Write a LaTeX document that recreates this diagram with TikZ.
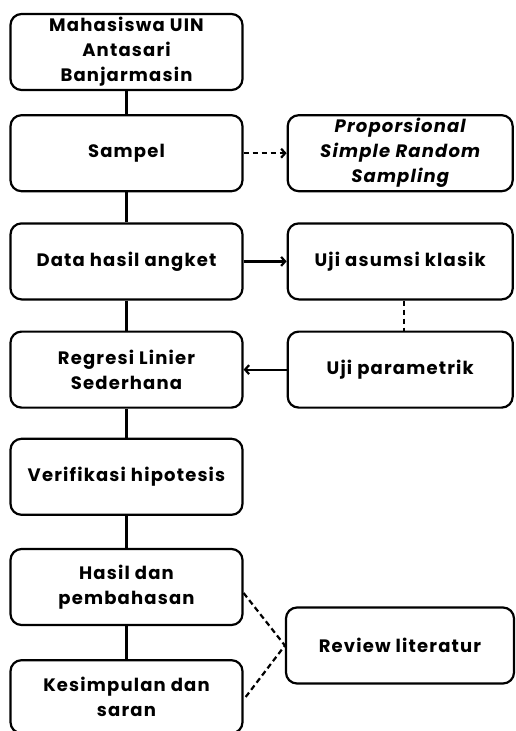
\documentclass[tikz,border=0pt]{standalone}
\usepackage{fontspec}
\setmainfont[LetterSpace=6.5]{Poppins}
\usetikzlibrary{positioning,arrows.meta}

\begin{document}
\begin{tikzpicture}[x=1pt, y=-1pt,
      box/.style={draw, rounded corners=11pt, line width=2.2pt, minimum width=232pt, minimum height=76pt, inner sep=1pt, align=center, font=\fontsize{18}{25}\selectfont\bfseries},
      side/.style={box, minimum width=225pt},
      link/.style={line width=2.2pt},
      flow/.style={-{Straight Barb[length=4pt,width=9pt]}, line width=2.2pt},
      hint/.style={line width=2.2pt, dash pattern=on 5.5pt off 3.5pt}
    ]
    \useasboundingbox (0,0) rectangle (515,731);
    \node[box] (mhs) at (126.5,52) {Mahasiswa UIN\\Antasari\\Banjarmasin};
    \node[box, below=23pt of mhs] (sampel) {Sampel};
    \node[box, below=30pt of sampel] (data) {Data hasil angket};
    \node[box, below=30pt of data] (regresi) {Regresi Linier\\Sederhana};
    \node[box, below=29pt of regresi] (verif) {Verifikasi hipotesis};
    \node[box, below=32pt of verif] (hasil) {Hasil dan\\pembahasan};
    \node[box, minimum height=73pt, below=33pt of hasil] (kesimpulan) {Kesimpulan dan\\saran};
    \node[side, right=43pt of sampel] (teknik) {\itshape Proporsional\\\itshape Simple Random\\\itshape Sampling};
    \node[side, right=43pt of data] (asumsi) {Uji asumsi klasik};
    \node[side, right=43pt of regresi] (param) {Uji parametrik};
    \node[side, minimum width=228pt] (review) at (400,645.5) {Review literatur};

    \draw[link] (mhs) -- (sampel);
    \draw[link] (sampel) -- (data);
    \draw[link] (data) -- (regresi);
    \draw[link] (regresi) -- (verif);
    \draw[link] (verif) -- (hasil);
    \draw[link] (hasil) -- (kesimpulan);
    \draw[hint, -{Straight Barb[length=4pt,width=9pt]}] (sampel) -- (teknik);
    \draw[flow] (data) -- (asumsi);
    \draw[flow] (param) -- (regresi);
    \draw[hint] ([xshift=4pt]asumsi.south) -- ([xshift=4pt]param.north);
    \draw[hint] ([yshift=-6pt]hasil.east) -- (review.west) -- ([yshift=-3pt]kesimpulan.east);
  \end{tikzpicture}
\end{document}
